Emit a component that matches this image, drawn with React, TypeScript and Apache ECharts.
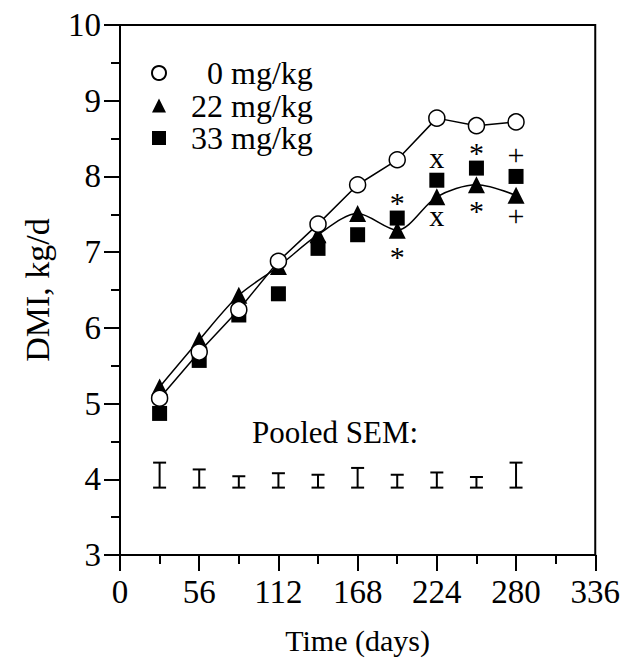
import React, { useEffect, useRef } from "react";
import * as echarts from "echarts";

const days = [28, 56, 84, 112, 140, 168, 196, 224, 252, 280];
const dose0 = [5.07, 5.68, 6.24, 6.88, 7.37, 7.89, 8.22, 8.77, 8.67, 8.72];
const dose22 = [5.22, 5.84, 6.43, 6.81, 7.23, 7.51, 7.29, 7.73, 7.89, 7.75];
const dose33 = [4.87, 5.57, 6.17, 6.45, 7.05, 7.23, 7.45, 7.95, 8.11, 8.0];
const marks33 = ["", "", "", "", "", "", "*", "x", "*", "+"];
const marks22 = ["", "", "", "", "", "", "*", "x", "*", "+"];
const semBase = 3.89;
const semTop = [4.22, 4.13, 4.04, 4.08, 4.06, 4.15, 4.06, 4.09, 4.03, 4.22];
const xTicks = [0, 56, 112, 168, 224, 280, 336];
const yTicks = [3, 4, 5, 6, 7, 8, 9, 10];
const seriesNames = ["0 mg/kg", "22 mg/kg", "33 mg/kg"];

const FONT = "'Liberation Serif', 'Times New Roman', serif";

// vertical adjustment of glyph centre relative to text centre (px)
const glyphShift: Record<string, number> = { "*": 4, x: -3, "+": -2 };

export default function App() {
  const ref = useRef<HTMLDivElement>(null);
  useEffect(() => {
    if (!ref.current) return;
    const chart = echarts.init(ref.current, undefined, { renderer: "svg" });
    const markLabel = (marks: string[]) => (p: any) => marks[p.dataIndex];
    const option: any = {
      animation: false,
      backgroundColor: "#fff",
      textStyle: { fontFamily: FONT, color: "#000" },
      grid: {
        left: 120,
        right: 26,
        top: 25,
        bottom: 112,
        show: true,
        borderColor: "#000",
        borderWidth: 2,
        backgroundColor: "transparent",
      },
      legend: {
        orient: "vertical",
        left: 151,
        top: 57,
        padding: 0,
        itemWidth: 14,
        itemHeight: 14,
        itemGap: 0.5,
        selectedMode: false,
        textStyle: { fontSize: 32, fontFamily: FONT, color: "#000", lineHeight: 30, padding: [0, 0, 0, 20] },
        formatter: (n: string) => (n.startsWith("0") ? "\u2007" + n : n),
        data: [
          { name: seriesNames[0], icon: "circle" },
          { name: seriesNames[1], icon: "triangle" },
          { name: seriesNames[2], icon: "rect" },
        ],
      },
      xAxis: {
        type: "value",
        min: xTicks[0],
        max: xTicks[xTicks.length - 1],
        interval: 56,
        name: "Time (days)",
        nameLocation: "middle",
        nameGap: 70,
        nameTextStyle: { fontSize: 30, fontFamily: FONT, color: "#000" },
        axisLine: { lineStyle: { color: "#000", width: 2 } },
        axisTick: { show: true, inside: false, length: 16, lineStyle: { color: "#000", width: 2 } },
        minorTick: { show: true, splitNumber: 2, length: 9, lineStyle: { color: "#000", width: 2 } },
        splitLine: { show: false },
        axisLabel: { fontSize: 33, fontFamily: FONT, color: "#000", margin: 20 },
      },
      yAxis: {
        type: "value",
        min: yTicks[0],
        max: yTicks[yTicks.length - 1],
        interval: 1,
        name: "DMI, kg/d",
        nameLocation: "middle",
        nameGap: 66,
        nameTextStyle: { fontSize: 34, fontFamily: FONT, color: "#000" },
        axisLine: { show: true, lineStyle: { color: "#000", width: 2 } },
        axisTick: { show: true, inside: false, length: 16, lineStyle: { color: "#000", width: 2 } },
        minorTick: { show: true, splitNumber: 2, length: 9, lineStyle: { color: "#000", width: 2 } },
        splitLine: { show: false },
        axisLabel: { fontSize: 33, fontFamily: FONT, color: "#000", margin: 19 },
      },
      graphic: [
        {
          type: "text",
          left: 252,
          top: 417,
          style: { text: "Pooled SEM:", fontSize: 31, fontFamily: FONT, fill: "#000" },
        },
      ],
      series: [
        {
          name: "sem",
          type: "custom",
          z: 1,
          data: days.map((d, i) => [d, semBase, semTop[i]]),
          renderItem: (params: any, api: any) => {
            const x = api.value(0);
            const lo = api.coord([x, api.value(1)]);
            const hi = api.coord([x, api.value(2)]);
            const hw = 6.5;
            const st = { stroke: "#000", lineWidth: 2 };
            return {
              type: "group",
              children: [
                { type: "line", shape: { x1: lo[0], y1: lo[1], x2: hi[0], y2: hi[1] }, style: st },
                { type: "line", shape: { x1: lo[0] - hw, y1: lo[1], x2: lo[0] + hw, y2: lo[1] }, style: st },
                { type: "line", shape: { x1: hi[0] - hw, y1: hi[1], x2: hi[0] + hw, y2: hi[1] }, style: st },
              ],
            };
          },
        },
        {
          name: seriesNames[2],
          type: "scatter",
          z: 2,
          symbol: "rect",
          symbolSize: 15,
          itemStyle: { color: "#000", opacity: 1 },
          data: days.map((d, i) => [d, dose33[i]]),
          label: {
            show: true,
            position: "inside",
            fontSize: 30,
            fontFamily: FONT,
            color: "#000",
            formatter: markLabel(marks33),
          },
          labelLayout: (p: any) => {
            const m = marks33[p.dataIndex];
            return { dy: -20 + (glyphShift[m] || 0) };
          },
        },
        {
          name: seriesNames[1],
          type: "line",
          z: 3,
          smooth: 0.3,
          symbol: "triangle",
          symbolSize: 17,
          itemStyle: { color: "#000" },
          lineStyle: { color: "#000", width: 1.5 },
          data: days.map((d, i) => [d, dose22[i]]),
          label: {
            show: true,
            position: "inside",
            fontSize: 30,
            fontFamily: FONT,
            color: "#000",
            formatter: markLabel(marks22),
          },
          labelLayout: (p: any) => {
            const m = marks22[p.dataIndex];
            return { dy: 22 + (glyphShift[m] || 0) };
          },
        },
        {
          name: seriesNames[0],
          type: "line",
          z: 4,
          symbol: "circle",
          symbolSize: 16,
          itemStyle: { color: "#fff", borderColor: "#000", borderWidth: 1.5 },
          lineStyle: { color: "#000", width: 1.5 },
          data: days.map((d, i) => [d, dose0[i]]),
        },
      ],
    };
    chart.setOption(option);
    return () => chart.dispose();
  }, []);
  return (
    <div
      ref={ref}
      style={{ position: "fixed", left: 0, top: 0, width: 623, height: 667, background: "#fff" }}
    />
  );
}
